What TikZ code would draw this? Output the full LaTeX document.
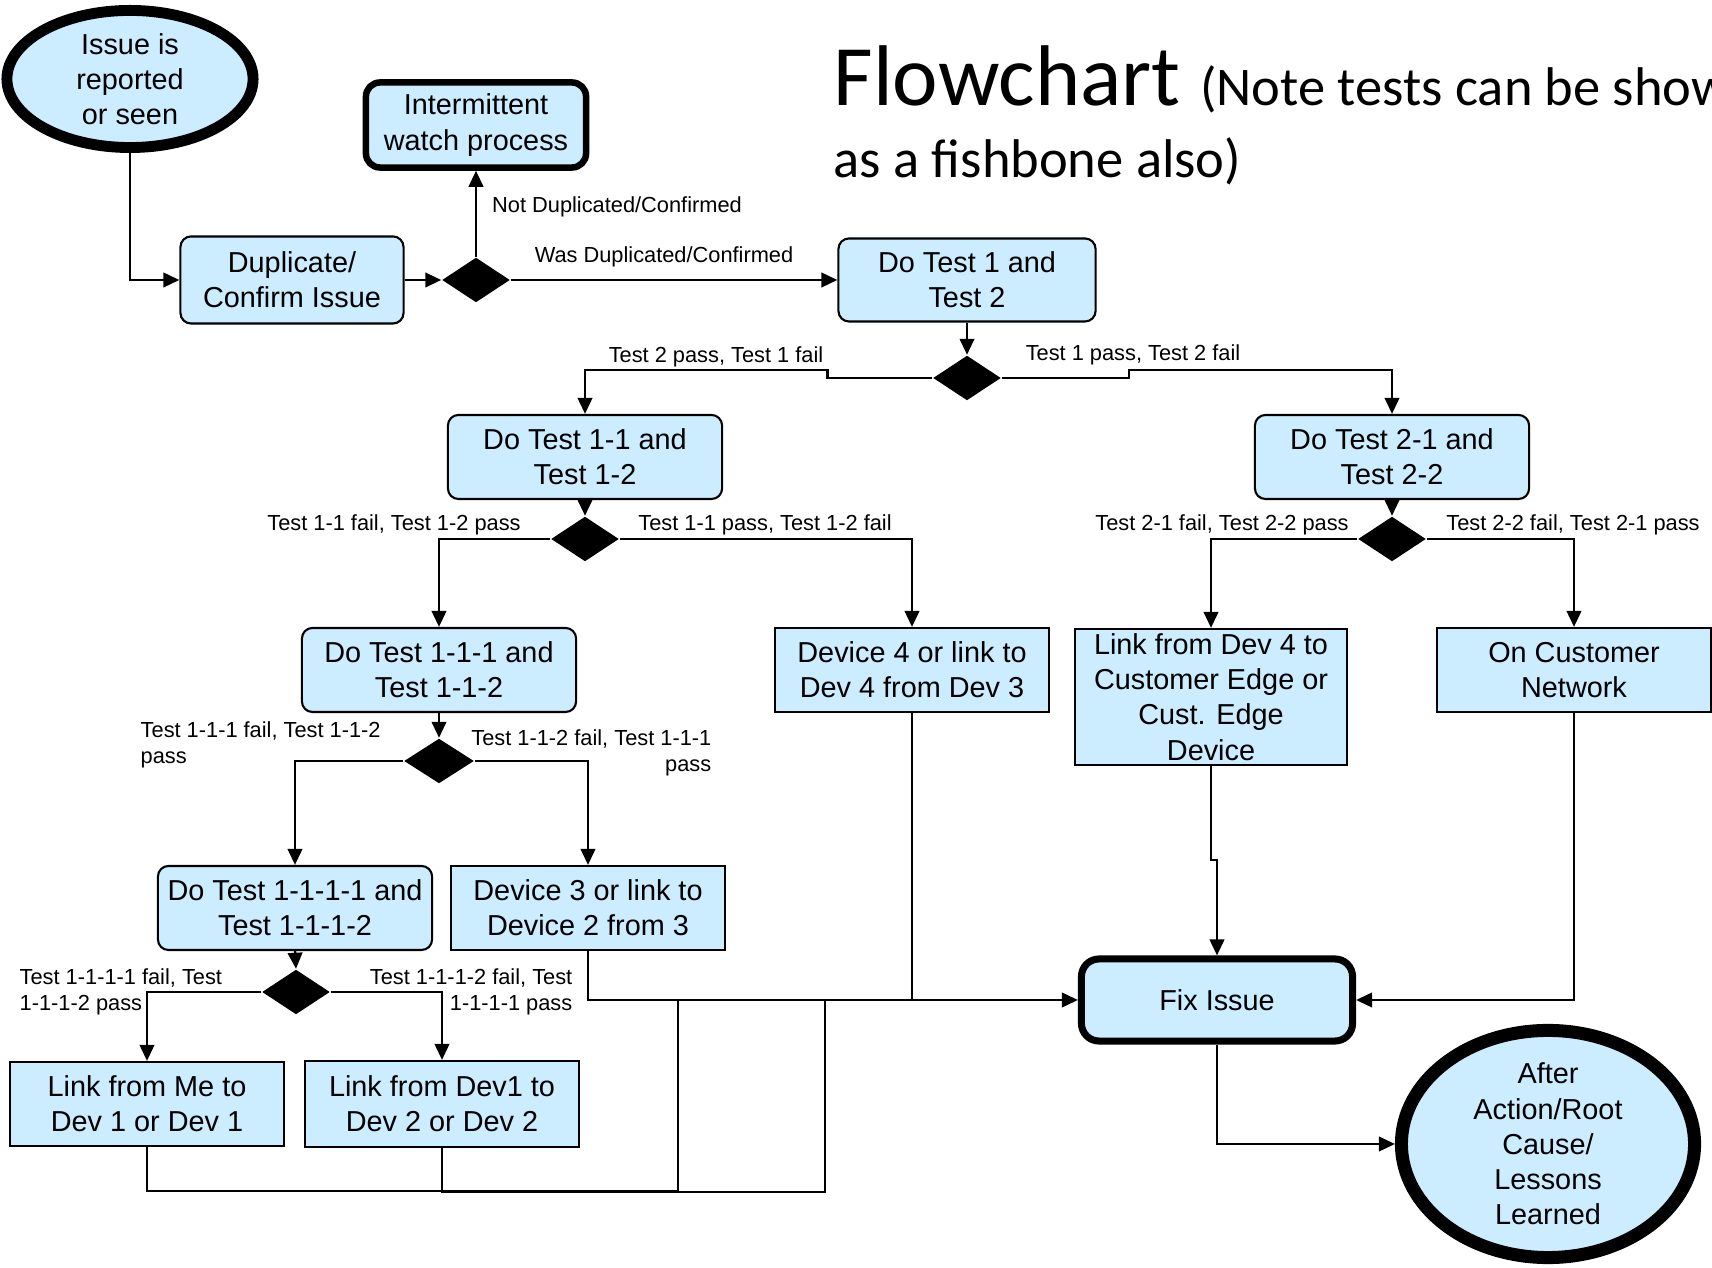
\documentclass[tikz,border=0pt]{standalone}
\usepackage{fontspec}
\setmainfont{Liberation Sans}
\newfontfamily\titlefont{Carlito}
\usetikzlibrary{arrows.meta,positioning,calc,shapes.geometric}
\definecolor{boxblue}{RGB}{204,236,255}
\tikzset{
  flowbox/.style={
    draw=black,
    fill=boxblue,
    rounded corners=3pt,
    align=center,
    font=\fontsize{8.2}{10}\selectfont,
    inner sep=1pt,
    line width=0.6pt,
    minimum width=2.74cm,
    minimum height=0.84cm
  },
  sharpbox/.style={flowbox, sharp corners},
  thickbox/.style={flowbox, line width=2pt, rounded corners=5pt},
  endbox/.style={
    ellipse,
    draw=black,
    fill=boxblue,
    align=center,
    font=\fontsize{8.2}{10}\selectfont,
    inner sep=0pt
  },
  decision/.style={
    diamond,
    fill=black,
    inner sep=0pt,
    minimum width=0.68cm,
    minimum height=0.45cm
  },
  edgelabel/.style={font=\fontsize{6.2}{7.5}\selectfont, inner sep=0pt},
  flowarrow/.style={-{Triangle[length=1.6mm,width=1.45mm]}, line width=0.7pt},
  flowline/.style={line width=0.7pt}
}

\begin{document}
\begin{tikzpicture}[x=0.01cm,y=-0.01cm]
  \useasboundingbox (0,0) rectangle (1712,1268);
  \clip (0,0) rectangle (1712,1268);
  % title
  \node[anchor=base west,inner sep=0pt,font=\titlefont\fontsize{24.5}{28}\selectfont] (title) at (833,106)
    {Flowchart {\fontsize{15.5}{18}\selectfont(Note tests can be shown}};
  \node[anchor=base west,inner sep=0pt,font=\titlefont\fontsize{15.5}{18}\selectfont] (subtitle) at (833,178)
    {as a fishbone also)};
  % boxes
  \node[endbox,line width=3.1pt,minimum width=2.46cm,minimum height=1.37cm] (s) at (130,79) {Issue is\\reported\\or seen};
  \node[thickbox,line width=1.85pt,rounded corners=4pt,minimum width=2.2cm,minimum height=0.85cm] (w) at (476,125) {Intermittent\\watch process};
  \node[flowbox,minimum width=2.23cm,minimum height=0.87cm] (d) at (292,280) {Duplicate/\\Confirm Issue};
  \node[decision] (q1) at (476,280) {};
  \node[flowbox,minimum width=2.57cm,minimum height=0.83cm] (t) at (967,280) {Do Test 1 and\\Test 2};
  \node[decision] (q2) at (967,378) {};
  \node[flowbox] (t1) at (585,457) {Do Test 1-1 and\\Test 1-2};
  \node[flowbox] (t2) at (1392,457) {Do Test 2-1 and\\Test 2-2};
  \node[decision] (q3) at (585,539) {};
  \node[decision] (q4) at (1392,539) {};
  \node[flowbox] (t11) at (439,670) {Do Test 1-1-1 and\\Test 1-1-2};
  \node[sharpbox] (v4) at (912,670) {Device 4 or link to\\Dev 4 from Dev 3};
  \node[sharpbox,minimum width=2.72cm,minimum height=1.36cm] (e4) at (1211,697) {Link from Dev 4 to\\Customer Edge or\\Cust. Edge\\Device};
  \node[sharpbox] (cn) at (1574,670) {On Customer\\Network};
  \node[decision,minimum width=0.7cm] (q5) at (439,761) {};
  \node[flowbox] (t111) at (295,908) {Do Test 1-1-1-1 and\\Test 1-1-1-2};
  \node[sharpbox] (v3) at (588,908) {Device 3 or link to\\Device 2 from 3};
  \node[decision] (q6) at (296,992) {};
  \node[sharpbox] (m1) at (147,1104) {Link from Me to\\Dev 1 or Dev 1};
  \node[sharpbox,minimum height=0.86cm] (m2) at (442,1104) {Link from Dev1 to\\Dev 2 or Dev 2};
  \node[thickbox,minimum width=2.71cm,minimum height=0.82cm] (fix) at (1217,1000) {Fix Issue};
  \node[endbox,line width=3.7pt,inner ysep=-1pt,minimum width=2.93cm,minimum height=2.27cm] (aar) at (1548,1144) {After\\Action/Root\\Cause/\\Lessons\\Learned};
  % labels
  \node[edgelabel] (l1) at (617,207) {Not Duplicated/Confirmed};
  \node[edgelabel] (l2) at (664,257) {Was Duplicated/Confirmed};
  \node[edgelabel] (l3) at (716,357) {Test 2 pass, Test 1 fail};
  \node[edgelabel] (l4) at (1133,355) {Test 1 pass, Test 2 fail};
  \node[edgelabel] (l5) at (394,525) {Test 1-1 fail, Test 1-2 pass};
  \node[edgelabel] (l6) at (765,525) {Test 1-1 pass, Test 1-2 fail};
  \node[edgelabel] (l7) at (1222,525) {Test 2-1 fail, Test 2-2 pass};
  \node[edgelabel] (l8) at (1573,525) {Test 2-2 fail, Test 2-1 pass};
  \node[edgelabel,anchor=west,align=left] (l9) at (140,745) {Test 1-1-1 fail, Test 1-1-2\\pass};
  \node[edgelabel,anchor=east,align=right] (l10) at (712,753) {Test 1-1-2 fail, Test 1-1-1\\pass};
  \node[edgelabel,anchor=west,align=left] (l11) at (19,992) {Test 1-1-1-1 fail, Test\\1-1-1-2 pass};
  \node[edgelabel,anchor=east,align=right] (l12) at (573,992) {Test 1-1-1-2 fail, Test\\1-1-1-1 pass};
  % connectors
  \draw[flowarrow] (s.south) |- (d.west);
  \draw[flowarrow] (d.east) -- (q1.west);
  \draw[flowarrow] (q1.north) -- (w.south);
  \draw[flowarrow] (q1.east) -- (t.west);
  \draw[flowarrow] (t.south) -- (q2.north);
  \draw[flowarrow] (q2.west) -- ++(-105,0) -- ++(0,-8) -| (t1.north);
  \draw[flowarrow] (q2.east) -- ++(127,0) -- ++(0,-8) -| (t2.north);
  \draw[flowarrow] (t1.south) -- (q3.north);
  \draw[flowarrow] (q3.west) -| (t11.north);
  \draw[flowarrow] (q3.east) -| (v4.north);
  \draw[flowarrow] (t2.south) -- (q4.north);
  \draw[flowarrow] (q4.west) -| (e4.north);
  \draw[flowarrow] (q4.east) -| (cn.north);
  \draw[flowarrow] (t11.south) -- (q5.north);
  \draw[flowarrow] (q5.west) -| (t111.north);
  \draw[flowarrow] (q5.east) -| (v3.north);
  \draw[flowarrow] (t111.south) -- (q6.north);
  \draw[flowarrow] (q6.west) -| (m1.north);
  \draw[flowarrow] (q6.east) -| (m2.north);
  % into fix issue
  \coordinate (j1) at ($(fix.west)+(-400,0)$);
  \coordinate (j2) at ($(fix.west)+(-253,0)$);
  \draw[flowarrow] (v3.south) |- (fix.west);
  \draw[flowline] (v4.south) -- (v4.south |- fix.west);
  \draw[flowline] (m1.south) -- ++(0,44) -| (j1);
  \draw[flowline] (m2.south) -- ++(0,44) -| (j2);
  \draw[flowarrow] (cn.south) |- (fix.east);
  \draw[flowarrow] (e4.south) -- ++(0,94) -| (fix.north);
  \draw[flowarrow] (fix.south) |- (aar.west);
\end{tikzpicture}
\end{document}
